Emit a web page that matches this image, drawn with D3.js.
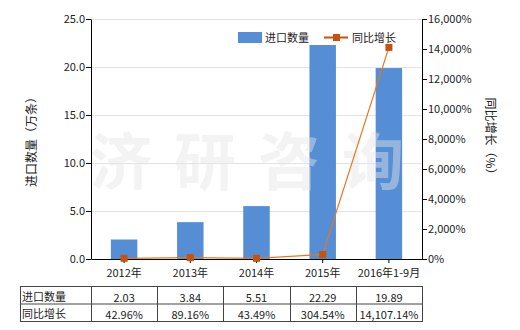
<!DOCTYPE html>
<html>
<head>
<meta charset="utf-8">
<script src="https://cdn.jsdelivr.net/npm/d3@7"></script>
<style>
  body { margin: 0; background: #fff; }
  text { font-family: "Noto Sans CJK SC", sans-serif; }
</style>
</head>
<body>
<div id="graph"></div>
<script>
const years = ["2012年", "2013年", "2014年", "2015年", "2016年1-9月"];
const importQty = [2.03, 3.84, 5.51, 22.29, 19.89];
const growth = [42.96, 89.16, 43.49, 304.54, 14107.14];
const qtyLabels = ["2.03", "3.84", "5.51", "22.29", "19.89"];
const growthLabels = ["42.96%", "89.16%", "43.49%", "304.54%", "14,107.14%"];
const leftTicks = [0, 5, 10, 15, 20, 25];
const rightTicks = [0, 2000, 4000, 6000, 8000, 10000, 12000, 14000, 16000];

const width = 520;
const height = 330;
const plotL = 91, plotR = 422, plotT = 19, plotB = 259;

const svg = d3.select("#graph")
              .append("svg")
              .attr("width", width)
              .attr("height", height);

const x = d3.scaleBand()
            .domain(years)
            .range([plotL, plotR])
            .paddingInner(0.6)
            .paddingOuter(0.3);

const xBand = d3.scaleBand().domain(years).range([plotL, plotR]);

const y = d3.scaleLinear().domain([0, 25]).range([plotB, plotT]);
const y2 = d3.scaleLinear().domain([0, 16000]).range([plotB, plotT]);

// gridlines
svg.append("g")
   .selectAll("line")
   .data(leftTicks.slice(1))
   .enter()
   .append("line")
   .attr("x1", plotL)
   .attr("x2", plotR)
   .attr("y1", d => y(d) + 0.5)
   .attr("y2", d => y(d) + 0.5)
   .attr("stroke", "#e4e4e4");

// bars
svg.append("g")
   .selectAll("rect")
   .data(importQty)
   .enter()
   .append("rect")
   .attr("x", (d, i) => x(years[i]))
   .attr("y", d => y(d))
   .attr("width", x.bandwidth())
   .attr("height", d => y(0) - y(d))
   .attr("fill", "#558ed5");

// watermark (light, sits over the bars)
svg.append("text")
   .attr("x", 258)
   .attr("y", 185)
   .attr("text-anchor", "middle")
   .attr("font-size", 62)
   .attr("font-weight", "bold")
   .attr("fill", "#e6e6e6")
   .attr("opacity", 0.45)
   .attr("letter-spacing", 22)
   .text("济研咨询");

// axes
const fmt1 = d3.format(".1f");
const fmtPct = d => d3.format(",")(d) + "%";

const axL = svg.append("g")
   .attr("transform", `translate(${plotL},0)`)
   .call(d3.axisLeft(y).tickValues(leftTicks).tickFormat(fmt1).tickSize(5).tickSizeOuter(0));

const axR = svg.append("g")
   .attr("transform", `translate(${plotR},0)`)
   .call(d3.axisRight(y2).tickValues(rightTicks).tickFormat(fmtPct).tickSize(5).tickSizeOuter(0));

const axB = svg.append("g")
   .attr("transform", `translate(0,${plotB})`)
   .call(d3.axisBottom(xBand).tickSize(4).tickSizeOuter(0).tickPadding(6));

[axL, axR, axB].forEach(a => {
  a.selectAll("path, line").attr("stroke", "#000");
  a.selectAll("text")
   .attr("font-size", 11)
   .attr("fill", "#222")
   .style("font-family", "'Noto Sans CJK SC', sans-serif");
});
axL.selectAll("text").attr("dx", 2);
axR.selectAll("text").attr("dx", -2);

// line
const line = d3.line()
               .x((d, i) => xBand(years[i]) + xBand.bandwidth() / 2)
               .y(d => y2(d));

svg.append("path")
   .datum(growth)
   .attr("d", line)
   .attr("fill", "none")
   .attr("stroke", "#e9761e")
   .attr("stroke-width", 1.2);

svg.append("g")
   .selectAll("rect")
   .data(growth)
   .enter()
   .append("rect")
   .attr("x", (d, i) => xBand(years[i]) + xBand.bandwidth() / 2 - 3.5)
   .attr("y", d => y2(d) - 3.5)
   .attr("width", 7)
   .attr("height", 7)
   .attr("fill", "#c5520f");

// legend
svg.append("rect")
   .attr("x", 238)
   .attr("y", 32)
   .attr("width", 24)
   .attr("height", 11)
   .attr("fill", "#558ed5");
svg.append("text")
   .attr("x", 265)
   .attr("y", 42)
   .attr("font-size", 11)
   .attr("fill", "#222")
   .text("进口数量");
svg.append("line")
   .attr("x1", 324)
   .attr("x2", 348)
   .attr("y1", 37.5)
   .attr("y2", 37.5)
   .attr("stroke", "#c5520f")
   .attr("stroke-width", 2);
svg.append("rect")
   .attr("x", 333)
   .attr("y", 34)
   .attr("width", 7)
   .attr("height", 7)
   .attr("fill", "#c5520f");
svg.append("text")
   .attr("x", 352)
   .attr("y", 42)
   .attr("font-size", 11)
   .attr("fill", "#222")
   .text("同比增长");

// axis titles
svg.append("text")
   .attr("transform", `translate(30,${(plotT + plotB) / 2}) rotate(-90)`)
   .attr("text-anchor", "middle")
   .attr("dominant-baseline", "central")
   .attr("font-size", 12)
   .attr("fill", "#222")
   .text("进口数量（万条）");

svg.append("text")
   .attr("transform", `translate(491,${(plotT + plotB) / 2}) rotate(90)`)
   .attr("text-anchor", "middle")
   .attr("dominant-baseline", "central")
   .attr("font-size", 12)
   .attr("fill", "#222")
   .text("同比增长（%）");

// data table
const rowTop = 286, rowH = 17.5, tableLeft = 20;
const rows = [["进口数量", qtyLabels], ["同比增长", growthLabels]];
const tbl = svg.append("g");

tbl.append("rect")
   .attr("x", tableLeft + 0.5)
   .attr("y", rowTop + 0.5)
   .attr("width", plotR - tableLeft)
   .attr("height", rowH * 2)
   .attr("fill", "none")
   .attr("stroke", "#444");

tbl.append("line")
   .attr("x1", tableLeft).attr("x2", plotR + 0.5)
   .attr("y1", rowTop + rowH + 0.5).attr("y2", rowTop + rowH + 0.5)
   .attr("stroke", "#444");

tbl.selectAll(".vline")
   .data(years)
   .enter()
   .append("line")
   .attr("class", "vline")
   .attr("x1", d => Math.round(xBand(d)) + 0.5)
   .attr("x2", d => Math.round(xBand(d)) + 0.5)
   .attr("y1", rowTop)
   .attr("y2", rowTop + rowH * 2)
   .attr("stroke", "#444");

rows.forEach((r, ri) => {
  const cy = rowTop + rowH * ri + rowH / 2 + 1;
  tbl.append("text")
     .attr("x", tableLeft + 2)
     .attr("y", cy)
     .attr("dominant-baseline", "central")
     .attr("font-size", 11)
     .attr("fill", "#222")
     .text(r[0]);
  tbl.selectAll(".c" + ri)
     .data(r[1])
     .enter()
     .append("text")
     .attr("x", (d, i) => xBand(years[i]) + xBand.bandwidth() / 2)
     .attr("y", cy + 1)
     .attr("text-anchor", "middle")
     .attr("dominant-baseline", "central")
     .attr("font-size", 11)
     .attr("fill", "#222")
     .text(d => d);
});
</script>
</body>
</html>
